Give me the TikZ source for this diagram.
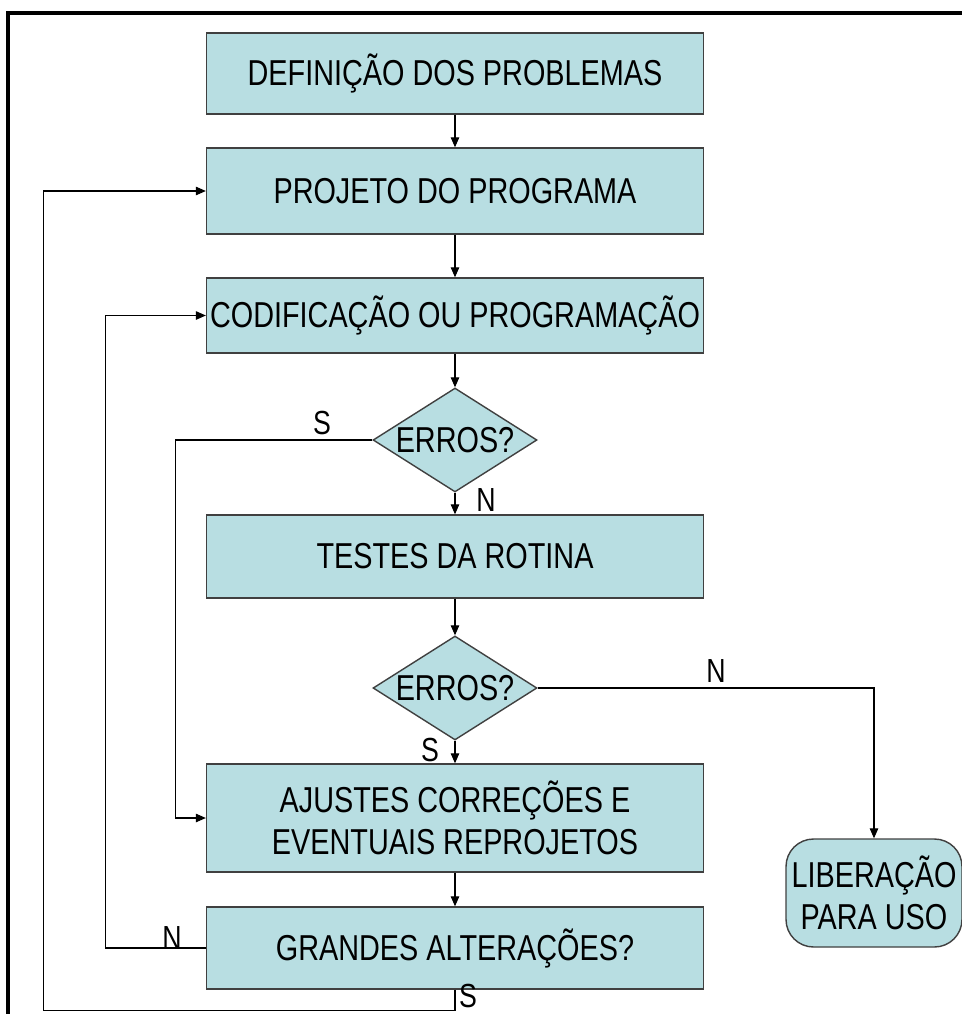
\documentclass[tikz,border=0pt]{standalone}
\usepackage{fontspec}
\setmainfont[FakeStretch=0.8]{Liberation Sans}
\usepackage{tikz}
\usetikzlibrary{arrows.meta,shapes.geometric,positioning}
\definecolor{flfill}{RGB}{184,222,226}
\definecolor{fledge}{RGB}{64,64,64}
\tikzset{
  flbox/.style={draw=fledge, line width=.8pt, fill=flfill, align=center, minimum width=9.94cm, minimum height=1.62cm, inner sep=1pt},
  fldec/.style={draw=fledge, line width=.8pt, fill=flfill, diamond, shape aspect=1.58, inner sep=0pt, minimum width=3.28cm, minimum height=2.08cm},
  flterm/.style={draw=fledge, line width=.8pt, fill=flfill, rounded corners=.55cm, align=center, minimum width=3.52cm, minimum height=2.16cm, inner sep=0pt},
  flarr/.style={-{Triangle[length=2mm,width=1.7mm]}, line width=.6pt, draw=black},
  fllab/.style={inner sep=0pt, font=\fontsize{19}{22}\selectfont}
}
\newcommand{\flfont}{\fontsize{20.5}{24}\selectfont}

\begin{document}
\begin{tikzpicture}[font=\flfont, x=.02cm, y=-.02cm]
  \useasboundingbox (0,0) rectangle (962,1014);
  \draw[line width=2pt] (8,1014) |- (962,13);

  \node[flbox] (def) at (455,73.5) {DEFINIÇÃO DOS PROBLEMAS};
  \node[flbox, minimum height=1.72cm] (proj) at (455,191) {PROJETO DO PROGRAMA};
  \node[flbox, minimum height=1.5cm] (cod) at (455,315.5) {CODIFICAÇÃO OU PROGRAMAÇÃO};
  \node[fldec] (err1) at (455,440) {ERROS?};
  \node[flbox, minimum height=1.66cm] (test) at (455,556.5) {TESTES DA ROTINA};
  \node[fldec] (err2) at (455,688) {ERROS?};
  \node[flbox, minimum height=2.16cm] (ajus) at (455,818) {AJUSTES CORREÇÕES E\\EVENTUAIS REPROJETOS};
  \node[flbox, minimum height=1.64cm] (grand) at (455,948) {GRANDES ALTERAÇÕES?};
  \node[flterm] (lib) at (874,893) {LIBERAÇÃO\\PARA USO};

  \draw[flarr] (def) -- (proj);
  \draw[flarr] (proj) -- (cod);
  \draw[flarr] (cod) -- (err1);
  \draw[flarr] (err1) -- (test);
  \draw[flarr] (test) -- (err2);
  \draw[flarr] (err2) -- (ajus);
  \draw[flarr] (ajus) -- (grand);

  % loops back
  \draw[flarr] (err1.west) -| ([xshift=-.6cm]ajus.west) -- (ajus.west);
  \draw[flarr] (err2.east) -| (lib.north);
  \draw[flarr] (grand.west) -| ([xshift=-2cm]cod.west) -- (cod.west);
  \draw[flarr] (grand.south) -- ++(0,21) -| ([xshift=-3.24cm]proj.west) -- (proj.west);

  \node[fllab] (s1) at (322,423) {S};
  \node[fllab] (n1) at (486,500) {N};
  \node[fllab] (n2) at (716,671) {N};
  \node[fllab] (s2) at (430,750) {S};
  \node[fllab] (n3) at (172,938) {N};
  \node[fllab] (s3) at (468,996) {S};
\end{tikzpicture}
\end{document}
